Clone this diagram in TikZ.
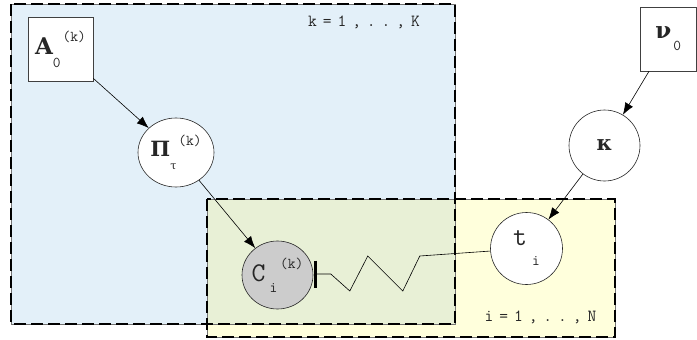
\documentclass[tikz,border=0pt]{standalone}
\usepackage{fontspec}
\newfontfamily\grk{DejaVu Serif}
\usetikzlibrary{shapes.geometric,arrows.meta,calc}
\definecolor{plateblue}{RGB}{227,240,249}
\definecolor{plateyellow}{RGB}{255,255,220}
\definecolor{plategreen}{RGB}{232,240,214}
\definecolor{nodegray}{RGB}{204,204,204}
\newcommand{\scr}[2]{\raisebox{#1}{\fontsize{15}{15}\selectfont #2}}
\newcommand{\spc}[1]{\makebox[14.7pt]{#1}}
\newcommand{\bsym}[2]{{\grk\bfseries\fontsize{#1}{#1}\selectfont #2}}
\begin{document}
\begin{tikzpicture}[x=1pt,y=-1pt,
  plate/.style={draw=black, line width=1.4pt, dash pattern=on 12pt off 5pt},
  plateedge/.style={draw=black!55, line width=0.5pt},
  varbox/.style={rectangle, draw=black!75, fill=white, line width=0.6pt, inner sep=0pt,
    font=\ttfamily\fontsize{27}{27}\selectfont, text=black!85},
  varcirc/.style={ellipse, draw=black!85, fill=white, line width=0.6pt, inner sep=-6pt,
    font=\ttfamily\fontsize{27}{27}\selectfont, text=black!85},
  edge/.style={-{Latex[length=12pt,width=9pt]}, black, line width=0.6pt},
  wire/.style={black, line width=0.6pt},
  plabel/.style={inner sep=0pt, text=black!85,
    font=\ttfamily\fontsize{17}{17}\selectfont}
]
\useasboundingbox (0,0) rectangle (697,340);
\fill[white] (0,0) rectangle (697,340);
% plates
\fill[plateblue] (11,4) rectangle (455,324);
\fill[plateyellow] (207,199) rectangle (615,337);
\fill[plategreen] (207,199) rectangle (455,324);
\draw[plateedge] (11,4) rectangle (455,324);
\draw[plateedge] (207,199) rectangle (615,337);
\draw[plate] (11,4) rectangle (455,324);
\draw[plate] (207,199) rectangle (615,337);
\node[plabel] (kl) at (364,22) {\spc{k}\spc{=}\spc{1}\spc{,}\spc{.}\spc{.}\spc{,}\spc{K}};
\node[plabel] (il) at (540.5,317) {\spc{i}\spc{=}\spc{1}\spc{,}\spc{.}\spc{.}\spc{,}\spc{N}};
% nodes
\node[varbox, minimum width=65pt, minimum height=64pt] (A) at (60.5,49)
  {\bsym{23}{A}\scr{-13pt}{0}\hspace{2pt}\scr{13pt}{(k)}};
\node[varcirc, minimum width=76pt, minimum height=69pt] (P) at (176,152.5)
  {\bsym{21}{Π}\scr{-13pt}{\grk\fontsize{11}{11}\selectfont τ}\hspace{2pt}\scr{11pt}{(k)}};
\node[varcirc, fill=nodegray, minimum width=71pt, minimum height=68pt] (C) at (277.5,275)
  {C\hspace{4pt}\scr{-11pt}{i}\hspace{3pt}\scr{13pt}{(k)}\hspace{11pt}};
\node[varcirc, minimum width=72pt, minimum height=72pt] (t) at (526.5,248.5)
  {t\hspace{5pt}\scr{-20pt}{i}\hspace{6pt}};
\node[varcirc, minimum width=71pt, minimum height=71pt] (kap) at (604.5,145.5)
  {\bsym{21}{κ}};
\node[varbox, minimum width=56pt, minimum height=64pt] (nu) at (668.3,39)
  {\bsym{23}{ν}\hspace{2pt}\scr{-12pt}{0}};
% edges
\draw[edge] (A) -- (P);
\draw[edge] (P) -- (C);
\draw[edge] (nu) -- (kap);
\draw[edge] (kap) -- (t);
% spring connector
\coordinate (bar) at ($(C.east)+(2.5,-1)$);
\draw[line width=3pt] ($(bar)+(0,-13.5)$) -- ($(bar)+(0,13.5)$);
\draw[wire] (bar) -- ++(15,0) -- ++(19,17) -- ++(18,-35) -- ++(35,35) -- ++(17,-35) -- (t);
\end{tikzpicture}
\end{document}
